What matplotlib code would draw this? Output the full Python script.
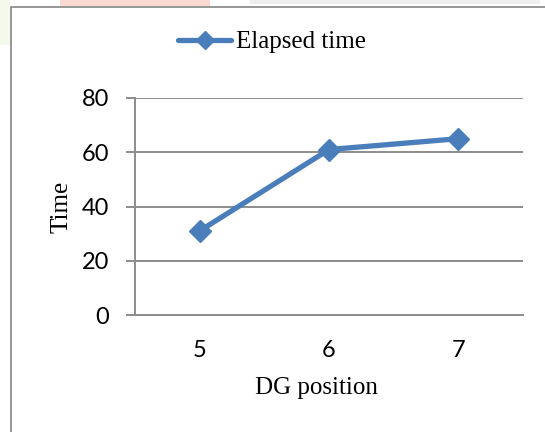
import matplotlib
matplotlib.use("Agg")
import matplotlib.pyplot as plt
from matplotlib.patches import Rectangle
from matplotlib.lines import Line2D

# DG position vs elapsed time
positions = [5, 6, 7]
elapsed = [31, 61, 65]
y_ticks = [0, 20, 40, 60, 80]

W, H = 545, 432
fig = plt.figure(figsize=(W / 100, H / 100), dpi=100)
fig.patch.set_facecolor("white")

# faint page marks above the frame
fig.add_artist(Rectangle((60 / W, 1 - 6 / H), 150 / W, 6 / H, transform=fig.transFigure,
                         facecolor="#fbd9d2", edgecolor="none"))
fig.add_artist(Rectangle((250 / W, 1 - 4 / H), 290 / W, 4 / H, transform=fig.transFigure,
                         facecolor="#efefef", edgecolor="none"))
fig.add_artist(Rectangle((0, 1 - 45 / H), 10 / W, 45 / H, transform=fig.transFigure,
                         facecolor="#f3faec", edgecolor="none"))

# frame around the chart
fig.add_artist(Rectangle((11 / W, -0.1), 1.0, (H - 7) / H + 0.1, transform=fig.transFigure,
                         fill=False, edgecolor="#858585", linewidth=1.2))

ax = fig.add_axes([135 / W, (H - 315) / H, (523 - 135) / W, (315 - 98) / H])
blue = "#4a7ebb"
grid = "#8c8c8c"

ax.plot(positions, elapsed, color=blue, linewidth=3.8, marker="D", markersize=11,
        markeredgecolor=blue, solid_capstyle="round", zorder=3, clip_on=False)

ax.set_xlim(4.5, 7.5)
ax.set_ylim(0, 80)
ax.set_xticks(positions)
ax.set_yticks(y_ticks)
ax.yaxis.grid(True, color=grid, linewidth=1.4)
ax.set_axisbelow(True)

for side in ("top", "right"):
    ax.spines[side].set_visible(False)
for side in ("left", "bottom"):
    ax.spines[side].set_color(grid)
    ax.spines[side].set_linewidth(1.4)

tick_font = "Lato"
ax.tick_params(axis="y", length=6.5, width=1.4, color=grid, pad=12, labelsize=17)
ax.tick_params(axis="x", length=0, pad=18, labelsize=17)
for lab in ax.get_xticklabels() + ax.get_yticklabels():
    lab.set_fontfamily(tick_font)

serif = "Liberation Serif"
fig.text(316 / W, 1 - 388 / H, "DG position", family=serif, fontsize=18,
         ha="center", va="center")
fig.text(62 / W, 1 - 207 / H, "Time", family=serif, fontsize=18,
         ha="center", va="center", rotation=90)

handle = Line2D([], [], color=blue, linewidth=3.8, marker="D", markersize=9,
                solid_capstyle="round")
fig.legend([handle], ["Elapsed time"], loc="center", bbox_to_anchor=(272 / W, 1 - 42 / H),
           frameon=False, prop={"family": serif, "size": 18}, handlelength=2.1,
           handletextpad=0.2, borderaxespad=0, borderpad=0)

fig.savefig("out.png", dpi=100)
